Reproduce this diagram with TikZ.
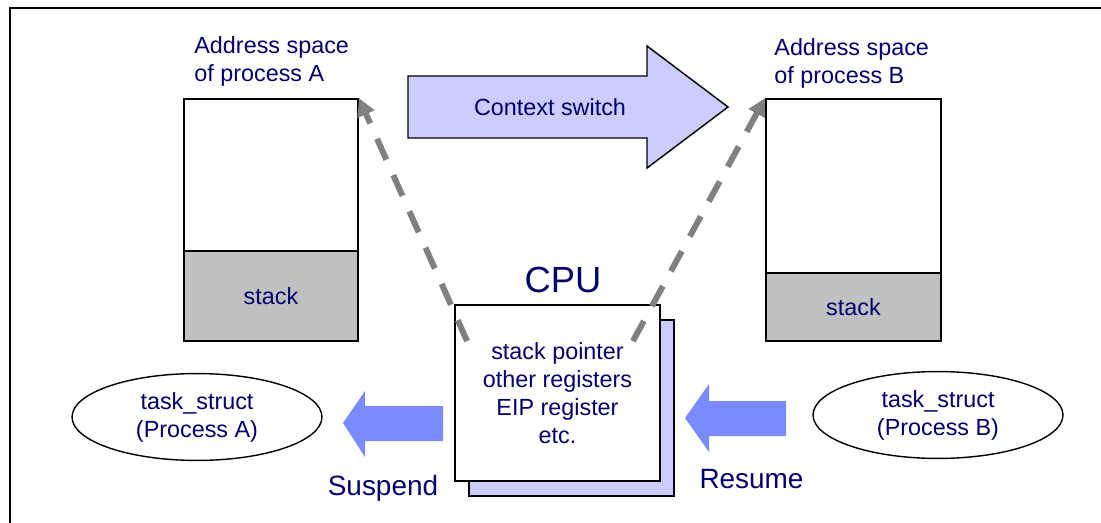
\documentclass[tikz,border=0pt]{standalone}
\usepackage{fontspec}
\setmainfont{Liberation Sans}
\usetikzlibrary{positioning,shapes.geometric,shadows,arrows.meta}
\definecolor{navy}{RGB}{0,0,110}
\definecolor{lav}{RGB}{204,204,255}
\definecolor{resblue}{RGB}{122,139,255}
\definecolor{stackgray}{RGB}{192,192,192}
\definecolor{linkgray}{RGB}{128,128,128}

\begin{document}
\begin{tikzpicture}[x=0.02cm, y=-0.02cm,
    every node/.style={text=navy, font=\fontsize{13.3}{15.9}\selectfont},
    space/.style={draw, line width=1.1pt, minimum width=3.48cm, minimum height=4.84cm},
    stackbox/.style={draw, line width=1.1pt, fill=stackgray, anchor=south},
    title/.style={align=left, inner sep=0pt, anchor=south west},
    task/.style={draw, ellipse, line width=0.8pt, align=center, minimum width=5cm, minimum height=1.52cm},
    bigword/.style={font=\fontsize{15.9}{19}\selectfont, anchor=base},
    link/.style={linkgray, line width=3.4pt, dash pattern=on 13pt off 9.6pt, -{Triangle[length=10pt,width=10pt]}},
    flow/.style={fill=resblue}]
    \useasboundingbox (0,0) rectangle (1101,523);
    \draw[line width=1.1pt] (10,523) -- (10,8) -- (1101,8);

    \node[space] (spaceA) at (271,220) {};
    \node[stackbox, minimum width=3.48cm, minimum height=1.8cm] (stackA) at (spaceA.south) {stack};
    \node[space, minimum width=3.5cm] (spaceB) at (853.5,220) {};
    \node[stackbox, minimum width=3.5cm, minimum height=1.36cm] (stackB) at (spaceB.south) {stack};
    \node[title] (titleA) at ([shift={(11,-11)}]spaceA.north west) {Address space\\of process A};
    \node[title] (titleB) at ([shift={(9,-9)}]spaceB.north west) {Address space\\of process B};

    \node[draw, fill=white, line width=1.1pt, minimum width=4.1cm, minimum height=3.52cm, align=center,
      copy shadow={shadow xshift=0.28cm, shadow yshift=-0.3cm, fill=lav, draw=black, line width=1.1pt}]
      (cpu) at (557.5,393) {stack pointer\\other registers\\EIP register\\etc.};
    \node[font=\fontsize{20.7}{24}\selectfont, anchor=base] (cpuname) at ([shift={(5.5,-12)}]cpu.north) {CPU};

    \draw[fill=lav, line width=0.8pt] (408,76) -- (647,76) -- (647,46) -- (728,107) -- (647,168) -- (647,138) -- (408,138) -- cycle;
    \node[anchor=base] (switch) at (550,116) {Context switch};

    \coordinate (regA) at ([shift={(13,37)}]cpu.north west);
    \coordinate (regB) at ([shift={(-28,37)}]cpu.north east);
    \draw[link] (regA) -- (spaceA.north east);
    \draw[link] (regB) -- (spaceB.north west);

    \node[task] (taskA) at (197,417) {task\_struct\\(Process A)};
    \node[task] (taskB) at (938,415) {task\_struct\\(Process B)};

    \fill[flow] (443,406) -- (365,406) -- (365,391) -- (343,423) -- (365,457) -- (365,441) -- (443,441) -- cycle;
    \fill[flow] (786,401) -- (709,401) -- (709,384) -- (685,418) -- (709,452) -- (709,436) -- (786,436) -- cycle;
    \node[bigword] (suspend) at (383,495) {Suspend};
    \node[bigword] (resume) at (751.5,488) {Resume};
\end{tikzpicture}
\end{document}
